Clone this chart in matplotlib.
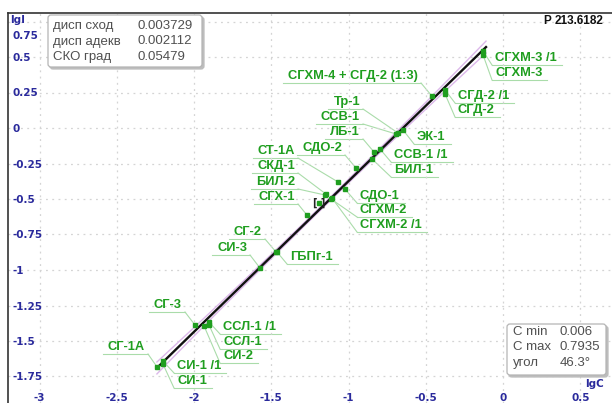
import matplotlib
matplotlib.use('Agg')
import matplotlib.pyplot as plt
import numpy as np
from matplotlib.patches import FancyBboxPatch
from matplotlib.transforms import IdentityTransform

# ---------------- data ----------------
names = ['СГХМ-3 /1', 'СГХМ-3', 'СГД-2 /1', 'СГД-2', 'СГХМ-4 + СГД-2 (1:3)',
         'ЭК-1', 'Тр-1', 'ССВ-1', 'ЛБ-1', 'ССВ-1 /1', 'БИЛ-1', 'СДО-2',
         'СТ-1А', 'СДО-1', 'СКД-1', 'БИЛ-2', 'СГХМ-2', 'СГХМ-2 /1', 'СГХ-1',
         'СГ-2', 'ГБПг-1', 'СИ-3', 'СГ-3', 'СИ-2', 'ССЛ-1 /1', 'ССЛ-1',
         'СИ-1 /1', 'СИ-1', 'СГ-1А']
lgC = [-0.129, -0.129, -0.375, -0.375, -0.460,
       -0.647, -0.680, -0.693, -0.835, -0.796, -0.848, -0.951,
       -1.068, -1.023, -1.146, -1.152, -1.113, -1.107, -1.269,
       -1.469, -1.465, -1.573, -1.994, -1.935, -1.903, -1.903,
       -2.201, -2.201, -2.239]
lgI = [0.542, 0.514, 0.268, 0.239, 0.225,
       -0.014, -0.035, -0.042, -0.169, -0.148, -0.218, -0.282,
       -0.380, -0.430, -0.465, -0.472, -0.500, -0.493, -0.613,
       -0.873, -0.870, -0.986, -1.387, -1.394, -1.366, -1.387,
       -1.641, -1.662, -1.683]
probe_x, probe_y = -1.191, -0.528          # the "[•]" sample
fit_x = [-2.24, -0.11]
fit_y = [-1.69, 0.57]

x_ticks = [-3, -2.5, -2, -1.5, -1, -0.5, 0, 0.5]
x_ticklabels = ['-3', '-2.5', '-2', '-1.5', '-1', '-0.5', '0', '0.5']
y_ticks = [0.75, 0.5, 0.25, 0, -0.25, -0.5, -0.75, -1, -1.25, -1.5, -1.75]
y_ticklabels = ['', '0.5', '0.25', '0', '-0.25', '-0.5', '-0.75', '-1', '-1.25', '-1.5', '-1.75']

stats_left = [('дисп сход', '0.003729'), ('дисп адекв', '0.002112'), ('СКО град', '0.05479')]
stats_right = [('C min', '0.006'), ('C max', '0.7935'), ('угол', '46.3°')]
p_value = '213.6182'

# ---------------- layout (pixel positions of labels: side, x-edge, y-centre) ----------------
label_pos = {
    'СГХМ-3 /1': ('r', 495, 58), 'СГХМ-3': ('r', 495, 73),
    'СГД-2 /1': ('r', 458, 96), 'СГД-2': ('r', 458, 110),
    'СГХМ-4 + СГД-2 (1:3)': ('l', 418, 76),
    'ЭК-1': ('r', 417, 137),
    'Тр-1': ('l', 360, 102), 'ССВ-1': ('l', 360, 117), 'ЛБ-1': ('l', 360, 132),
    'ССВ-1 /1': ('r', 394, 155), 'БИЛ-1': ('r', 394, 170),
    'СДО-2': ('l', 342, 148),
    'СТ-1А': ('l', 295, 151), 'СКД-1': ('l', 295, 166), 'БИЛ-2': ('l', 295, 182), 'СГХ-1': ('l', 295, 197),
    'СДО-1': ('r', 360, 196), 'СГХМ-2': ('r', 360, 210), 'СГХМ-2 /1': ('r', 360, 225),
    'СГ-2': ('l', 262, 232), 'СИ-3': ('l', 247, 248), 'ГБПг-1': ('r', 290, 257),
    'СГ-3': ('l', 182, 305),
    'ССЛ-1 /1': ('r', 223, 327), 'ССЛ-1': ('r', 223, 342), 'СИ-2': ('r', 223, 356),
    'СИ-1 /1': ('r', 177, 366), 'СИ-1': ('r', 177, 381),
    'СГ-1А': ('l', 145, 347),
}

W, H = 612, 403
fig = plt.figure(figsize=(W / 100, H / 100), dpi=100)
fig.patch.set_facecolor('white')
ax = fig.add_axes([8 / W, 0, 1 - 8 / W, (H - 13) / H])
ax.set_xlim((8 - 503) / 154.5, (612 - 503) / 154.5)
ax.set_ylim((128 - 403) / 142, (128 - 13) / 142)

tick_color = '#2a2a9c'
green = '#1f9e1f'
leader = '#aadcaa'

ax.set_xticks(x_ticks)
ax.set_xticklabels(x_ticklabels)
ax.set_yticks(y_ticks)
ax.set_yticklabels(y_ticklabels)
ax.tick_params(axis='both', length=0, labelcolor=tick_color, labelsize=7.5)
ax.tick_params(axis='x', pad=-7)
ax.tick_params(axis='y', pad=-3)
for lab in ax.get_yticklabels():
    lab.set_horizontalalignment('left')
    lab.set_fontweight('bold')
for lab in ax.get_xticklabels():
    lab.set_fontweight('bold')
ax.grid(True, color='#d4d4d4', linestyle=(0, (1.5, 3.5)), linewidth=0.9)
for s in ['right', 'bottom']:
    ax.spines[s].set_visible(False)
for s in ['left', 'top']:
    ax.spines[s].set_color('#333333')
    ax.spines[s].set_linewidth(1.2)

def disp(px, py):
    return px, H - py

ax.text(4 / 154.5 + ax.get_xlim()[0], (128 - 36) / 142, '0.75', color=tick_color,
        fontsize=7.5, fontweight='bold', ha='left', va='center')
ax.text(*disp(10, 20), 'lgI', transform=IdentityTransform(), color=tick_color,
        fontsize=7.5, fontweight='bold', ha='left', va='center')
ax.text(*disp(595, 384), 'lgC', transform=IdentityTransform(), color=tick_color,
        fontsize=7.5, fontweight='bold', ha='center', va='center')

# regression line + confidence band
fx = np.linspace(fit_x[0], fit_x[1], 60)
slope = (fit_y[1] - fit_y[0]) / (fit_x[1] - fit_x[0])
fy = fit_y[0] + slope * (fx - fit_x[0])
xm = 0.5 * (fit_x[0] + fit_x[1]); half = 0.5 * (fit_x[1] - fit_x[0])
band = 0.012 + 0.03 * ((fx - xm) / half) ** 2
ax.plot(fx, fy + band, color='#dcb8ea', lw=1.0, zorder=2)
ax.plot(fx, fy - band, color='#dcb8ea', lw=1.0, zorder=2)
ax.plot(fit_x, fit_y, color='#111111', lw=1.7, zorder=3)

ax.plot(lgC, lgI, 's', color=green, ms=3.2, mec=green, zorder=4, linestyle='none')
ax.plot([probe_x], [probe_y], 's', color=green, ms=2.3, zorder=5)
ax.text(probe_x, probe_y, '[ ]', color='#222222', fontsize=7, fontweight='bold',
        ha='center', va='center', zorder=5)

fig.canvas.draw()
renderer = fig.canvas.get_renderer()
for n, x, y in zip(names, lgC, lgI):
    side, ex, ey = label_pos[n]
    dx, dy = disp(ex, ey)
    t = ax.text(dx, dy, n, transform=IdentityTransform(), color=green,
                fontsize=9.3, fontweight='bold', family='Liberation Sans',
                ha='left' if side == 'r' else 'right', va='center', zorder=6)
    bb = t.get_window_extent(renderer)
    uy = bb.y0 - 1
    x0, x1 = bb.x0 - 3, bb.x1 + 5
    if side == 'l':
        x0, x1 = bb.x0 - 5, bb.x1 + 3
    px, py = ax.transData.transform((x, y))
    end = (x0, uy) if side == 'r' else (x1, uy)
    ax.plot([x0, x1], [uy, uy], color=leader, lw=0.8, transform=IdentityTransform(), zorder=1)
    ax.plot([px, end[0]], [py, end[1]], color=leader, lw=0.8, transform=IdentityTransform(), zorder=1)

def box(x0, y0, x1, y1):
    for off, fc, ec in [(2, '#bdbdbd', '#bdbdbd'), (0, 'white', '#b5b5b5')]:
        p = FancyBboxPatch((x0 + off, H - y1 - off), x1 - x0, y1 - y0,
                           boxstyle='round,pad=0,rounding_size=3', transform=IdentityTransform(),
                           fc=fc, ec=ec, lw=0.9, zorder=7 if off == 0 else 6.9)
        fig.patches.append(p)

box(48, 15, 202, 67)
for i, (k, v) in enumerate(stats_left):
    fig.text(53 / W, 1 - (26 + 15.5 * i) / H, k, color='#505050', fontsize=9.5,
             family='Liberation Sans', va='center', ha='left', zorder=8)
    fig.text(137 / W, 1 - (26 + 15.5 * i) / H, v, color='#505050', fontsize=9.5,
             family='Liberation Sans', va='center', ha='left', zorder=8)
box(507, 324, 606, 375)
for i, (k, v) in enumerate(stats_right):
    fig.text(513 / W, 1 - (332 + 15.5 * i) / H, k, color='#505050', fontsize=9.5,
             family='Liberation Sans', va='center', ha='left', zorder=8)
    fig.text(560 / W, 1 - (332 + 15.5 * i) / H, v, color='#505050', fontsize=9.5,
             family='Liberation Sans', va='center', ha='left', zorder=8)

fig.text(543 / W, 1 - 21 / H, 'P', color='#111111', fontsize=8.5, fontweight='bold',
         family='Liberation Sans', va='center', ha='left')
fig.text(555 / W, 1 - 21 / H, p_value, color='#111111', fontsize=8.5, fontweight='bold',
         family='Liberation Sans', va='center', ha='left')

fig.savefig('out.png', dpi=100, facecolor='white')
